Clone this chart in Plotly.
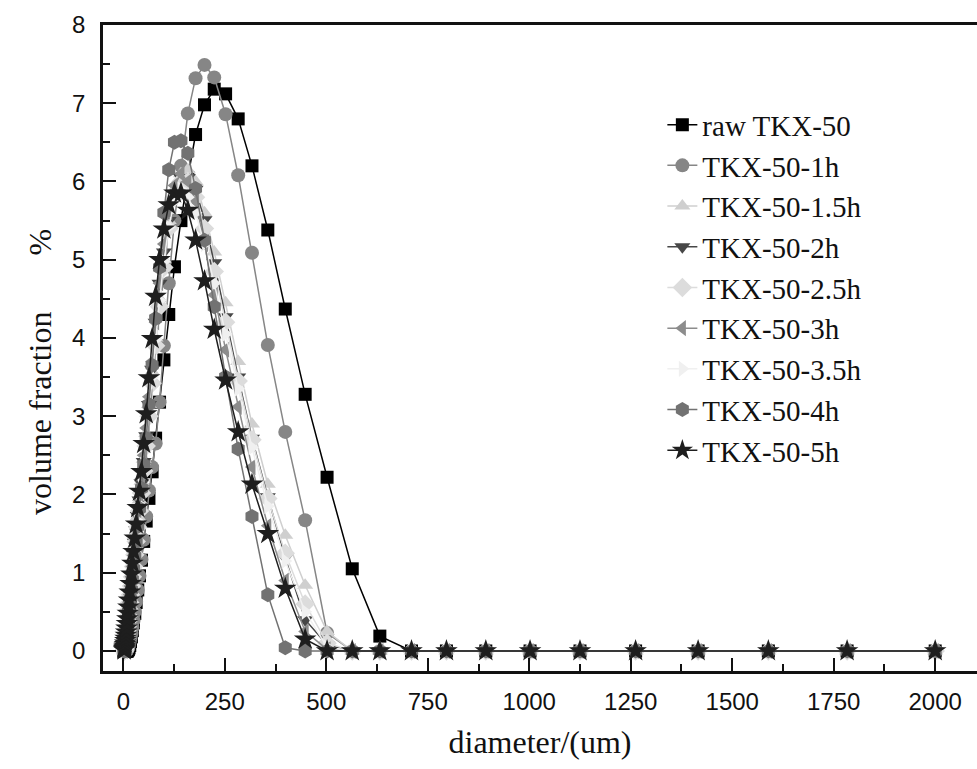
import plotly.graph_objects as go

# particle diameter bins (um)
diameter = [2.00, 2.24, 2.52, 2.83, 3.17, 3.56, 3.99, 4.48, 5.02, 5.64,
            6.32, 7.10, 7.96, 8.93, 10.0, 11.2, 12.6, 14.2, 15.9, 17.8,
            20.0, 22.4, 25.2, 28.3, 31.7, 35.6, 39.9, 44.8, 50.2, 56.4,
            63.2, 71.0, 79.6, 89.3, 100, 112, 126, 142, 159, 178,
            200, 224, 252, 283, 317, 356, 399, 448, 502, 564,
            632, 710, 796, 893, 1002, 1125, 1262, 1416, 1589, 1783,
            2000]

raw_tkx50 = [0, 0, 0, 0, 0, 0, 0, 0, 0, 0,
             0, 0, 0, 0, 0, 0.01, 0.02, 0.04, 0.07, 0.12,
             0.18, 0.26, 0.36, 0.48, 0.62, 0.78, 0.96, 1.16, 1.40, 1.66,
             1.95, 2.29, 2.72, 3.18, 3.72, 4.30, 4.91, 5.50, 6.05, 6.60,
             6.98, 7.18, 7.12, 6.80, 6.20, 5.38, 4.37, 3.28, 2.22, 1.05,
             0.19, 0, 0, 0, 0, 0, 0, 0, 0, 0,
             0]

tkx_1h = [0, 0, 0, 0, 0, 0, 0, 0, 0, 0,
          0, 0, 0, 0.01, 0.02, 0.03, 0.05, 0.08, 0.12, 0.17,
          0.23, 0.30, 0.39, 0.50, 0.63, 0.78, 0.96, 1.17, 1.42, 1.72,
          2.05, 2.35, 2.65, 3.18, 3.90, 4.70, 5.50, 6.20, 6.87, 7.32,
          7.49, 7.33, 6.86, 6.08, 5.09, 3.91, 2.80, 1.67, 0.23, 0,
          0, 0, 0, 0, 0, 0, 0, 0, 0, 0,
          0]

tkx_15h = [0, 0.01, 0.01, 0.02, 0.03, 0.04, 0.06, 0.08, 0.10, 0.13,
           0.16, 0.20, 0.25, 0.30, 0.36, 0.43, 0.51, 0.60, 0.70, 0.81,
           0.93, 1.06, 1.20, 1.36, 1.53, 1.72, 1.93, 2.17, 2.45, 2.78,
           3.15, 3.57, 4.00, 4.50, 5.00, 5.50, 5.90, 6.10, 6.15, 6.00,
           5.60, 5.10, 4.45, 3.70, 2.90, 2.13, 1.48, 0.84, 0.25, 0,
           0, 0, 0, 0, 0, 0, 0, 0, 0, 0,
           0]

tkx_2h = [0.01, 0.01, 0.02, 0.03, 0.04, 0.05, 0.07, 0.09, 0.12, 0.15,
          0.19, 0.23, 0.28, 0.34, 0.40, 0.47, 0.55, 0.64, 0.74, 0.85,
          0.97, 1.10, 1.24, 1.39, 1.55, 1.73, 1.93, 2.15, 2.42, 2.75,
          3.15, 3.60, 4.20, 4.70, 5.10, 5.50, 5.85, 6.05, 6.05, 5.90,
          5.51, 4.96, 4.27, 3.50, 2.72, 1.97, 1.19, 0.40, 0.08, 0,
          0, 0, 0, 0, 0, 0, 0, 0, 0, 0,
          0]

tkx_25h = [0, 0, 0.01, 0.02, 0.02, 0.03, 0.05, 0.06, 0.08, 0.11,
           0.14, 0.17, 0.21, 0.26, 0.32, 0.38, 0.45, 0.53, 0.62, 0.72,
           0.83, 0.95, 1.08, 1.23, 1.40, 1.58, 1.79, 2.02, 2.30, 2.62,
           3.00, 3.42, 3.90, 4.40, 4.90, 5.40, 5.80, 6.00, 6.00, 5.80,
           5.40, 4.85, 4.20, 3.45, 2.70, 1.95, 1.25, 0.60, 0.10, 0,
           0, 0, 0, 0, 0, 0, 0, 0, 0, 0,
           0]

tkx_3h = [0, 0.01, 0.02, 0.02, 0.03, 0.05, 0.06, 0.08, 0.11, 0.14,
          0.17, 0.21, 0.26, 0.32, 0.38, 0.45, 0.53, 0.62, 0.72, 0.83,
          0.95, 1.08, 1.22, 1.38, 1.55, 1.74, 1.95, 2.20, 2.50, 2.85,
          3.25, 3.70, 4.20, 4.70, 5.20, 5.60, 5.95, 6.10, 6.00, 5.75,
          5.20, 4.55, 3.85, 3.12, 2.35, 1.60, 0.90, 0.25, 0.02, 0,
          0, 0, 0, 0, 0, 0, 0, 0, 0, 0,
          0]

tkx_35h = [0, 0.01, 0.01, 0.02, 0.03, 0.04, 0.05, 0.07, 0.09, 0.12,
           0.15, 0.19, 0.23, 0.28, 0.34, 0.41, 0.48, 0.57, 0.66, 0.77,
           0.89, 1.01, 1.15, 1.30, 1.47, 1.66, 1.87, 2.10, 2.38, 2.70,
           3.08, 3.50, 3.98, 4.48, 4.98, 5.42, 5.75, 5.90, 5.80, 5.60,
           5.20, 4.70, 4.05, 3.35, 2.60, 1.85, 1.15, 0.50, 0.05, 0,
           0, 0, 0, 0, 0, 0, 0, 0, 0, 0,
           0]

tkx_4h = [0, 0, 0, 0, 0.01, 0.02, 0.03, 0.04, 0.06, 0.08,
          0.10, 0.13, 0.17, 0.21, 0.26, 0.32, 0.39, 0.47, 0.56, 0.66,
          0.78, 0.91, 1.05, 1.21, 1.39, 1.59, 1.82, 2.08, 2.38, 2.72,
          3.15, 3.65, 4.25, 4.90, 5.60, 6.15, 6.50, 6.52, 6.36, 5.91,
          5.25, 4.40, 3.50, 2.58, 1.72, 0.72, 0.04, 0, 0, 0,
          0, 0, 0, 0, 0, 0, 0, 0, 0, 0,
          0]

tkx_5h = [0.01, 0.02, 0.03, 0.04, 0.05, 0.06, 0.08, 0.10, 0.13, 0.16,
          0.20, 0.24, 0.29, 0.35, 0.41, 0.48, 0.56, 0.65, 0.75, 0.86,
          0.98, 1.12, 1.27, 1.44, 1.62, 1.83, 2.04, 2.29, 2.65, 3.03,
          3.49, 3.99, 4.53, 5.00, 5.39, 5.70, 5.85, 5.85, 5.63, 5.25,
          4.73, 4.11, 3.46, 2.80, 2.13, 1.50, 0.80, 0.15, 0, 0,
          0, 0, 0, 0, 0, 0, 0, 0, 0, 0,
          0]

series_names = ["raw TKX-50", "TKX-50-1h", "TKX-50-1.5h", "TKX-50-2h", "TKX-50-2.5h",
                "TKX-50-3h", "TKX-50-3.5h", "TKX-50-4h", "TKX-50-5h"]
series_values = [raw_tkx50, tkx_1h, tkx_15h, tkx_2h, tkx_25h, tkx_3h, tkx_35h, tkx_4h, tkx_5h]
symbols = ["square", "circle", "triangle-up", "triangle-down", "diamond",
           "triangle-left", "triangle-right", "hexagon", "star"]
colors = ["#000000", "#868686", "#cfcfcf", "#474747", "#dcdcdc",
          "#8c8c8c", "#f0f0f0", "#727272", "#1e1e1e"]
sizes = [13, 14, 14, 14, 15, 14, 14, 15, 17]

fig = go.Figure()
for name, vals, sym, col, sz in zip(series_names, series_values, symbols, colors, sizes):
    fig.add_trace(go.Scatter(
        x=diameter, y=vals, mode="lines+markers", name=name,
        line=dict(color=col, width=1.5),
        marker=dict(symbol=sym, color=col, size=sz, line=dict(width=0)),
    ))

serif = "Liberation Serif, Times New Roman, serif"
sans = "Liberation Sans, Arial, sans-serif"

fig.update_layout(
    width=977, height=769,
    margin=dict(l=103, r=0, t=25, b=98),
    paper_bgcolor="white", plot_bgcolor="white",
    showlegend=True,
    legend=dict(x=0.64, y=0.885, xanchor="left", yanchor="top",
                font=dict(family=serif, size=29, color="#111111"),
                bgcolor="rgba(0,0,0,0)", borderwidth=0, tracegroupgap=0),
    xaxis=dict(range=[-50, 2103], tickmode="linear", tick0=0, dtick=250,
               ticks="inside", ticklen=13, tickwidth=2, tickcolor="#111111",
               minor=dict(dtick=125, ticks="inside", ticklen=7, tickwidth=2, tickcolor="#111111"),
               showline=True, linewidth=2.5, linecolor="#111111", mirror=True,
               showgrid=False, zeroline=False,
               tickfont=dict(family=sans, size=24, color="#111111"),
               ticklabelstandoff=7,
               title=dict(text="diameter/(um)", font=dict(family=serif, size=32, color="#111111"),
                          standoff=18)),
    yaxis=dict(range=[-0.256, 8], tickmode="linear", tick0=0, dtick=1,
               ticks="inside", ticklen=13, tickwidth=2, tickcolor="#111111",
               minor=dict(dtick=0.5, ticks="inside", ticklen=7, tickwidth=2, tickcolor="#111111"),
               showline=True, linewidth=2.5, linecolor="#111111", mirror=False,
               showgrid=False, zeroline=False,
               tickfont=dict(family=sans, size=24, color="#111111"),
               ticklabelstandoff=10),
    annotations=[dict(text="volume fraction" + "\u00a0" * 7 + "%",
                      textangle=-90, xref="paper", yref="paper",
                      x=-0.072, y=0.463, xanchor="center", yanchor="middle",
                      showarrow=False,
                      font=dict(family=serif, size=32, color="#111111"))],
)

fig.write_html("out.html")
